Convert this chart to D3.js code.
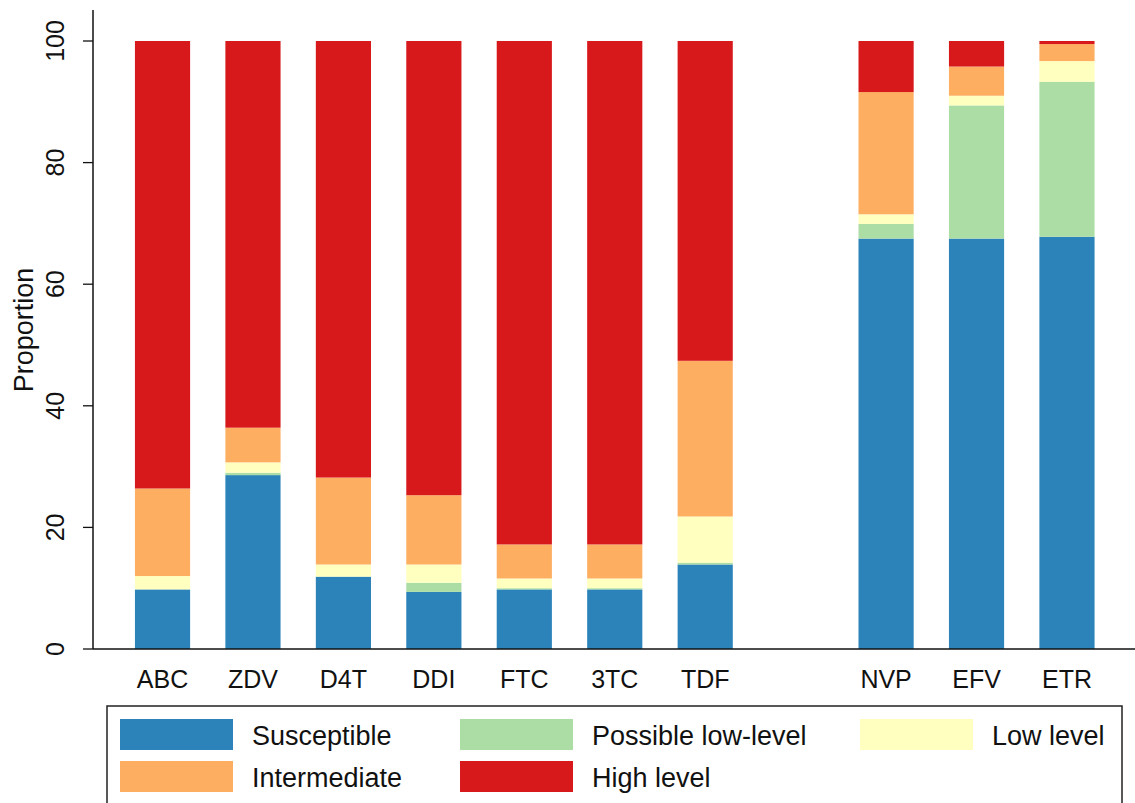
<!DOCTYPE html>
<html>
<head>
<meta charset="utf-8">
<script src="https://cdn.jsdelivr.net/npm/d3@7"></script>
<style>
  html, body { margin: 0; padding: 0; background: #fff; }
  svg { display: block; font-family: "Liberation Sans", Arial, sans-serif; }
</style>
</head>
<body>
<svg id="chart" width="1135" height="803"></svg>
<script>
// ---- Data ----
const drugs = ["ABC", "ZDV", "D4T", "DDI", "FTC", "3TC", "TDF", "NVP", "EFV", "ETR"];
const susceptible   = [9.8, 28.6, 11.9, 9.4, 9.8, 9.8, 13.9, 67.5, 67.5, 67.8];
const possibleLow   = [0.0, 0.4, 0.0, 1.5, 0.2, 0.2, 0.3, 2.4, 21.9, 25.5];
const lowLevel      = [2.2, 1.7, 2.0, 3.0, 1.6, 1.6, 7.6, 1.6, 1.6, 3.4];
const intermediate  = [14.4, 5.7, 14.3, 11.4, 5.6, 5.6, 25.6, 20.1, 4.8, 2.8];
const highLevel     = [73.6, 63.6, 71.8, 74.7, 82.8, 82.8, 52.6, 8.4, 4.2, 0.5];
const seriesNames   = ["Susceptible", "Possible low-level", "Low level", "Intermediate", "High level"];
const seriesColors  = ["#2b83ba", "#abdda4", "#ffffbf", "#fdae61", "#d7191c"];
const yTicks        = [0, 20, 40, 60, 80, 100];
// slot layout: a blank slot separates NRTIs from NNRTIs
const slots = ["ABC", "ZDV", "D4T", "DDI", "FTC", "3TC", "TDF", "_gap", "NVP", "EFV", "ETR"];

const seriesValues = [susceptible, possibleLow, lowLevel, intermediate, highLevel];
const table = drugs.map((d, i) => {
  const row = { drug: d };
  seriesNames.forEach((s, k) => row[s] = seriesValues[k][i]);
  return row;
});

const svg = d3.select("#chart");

const y = d3.scaleLinear().domain([0, 100]).range([649, 41]);
const x = d3.scaleBand().domain(slots).range([117.3, 1112.2])
  .paddingInner(0.39).paddingOuter(0.195);
const color = d3.scaleOrdinal().domain(seriesNames).range(seriesColors);

const stacked = d3.stack().keys(seriesNames)(table);

// bars
svg.append("g").selectAll("g")
  .data(stacked)
  .join("g")
  .attr("fill", d => color(d.key))
  .selectAll("rect")
  .data(d => d.filter(p => p[1] - p[0] > 0))
  .join("rect")
  .attr("x", d => x(d.data.drug))
  .attr("width", x.bandwidth())
  .attr("y", d => y(d[1]))
  .attr("height", d => y(d[0]) - y(d[1]));

// y axis
const axisX = 93;
const yAxis = svg.append("g");
yAxis.append("line")
  .attr("x1", axisX).attr("x2", axisX)
  .attr("y1", 10).attr("y2", y(0))
  .attr("stroke", "#111").attr("stroke-width", 1.5);
yAxis.selectAll("line.tick")
  .data(yTicks).join("line").attr("class", "tick")
  .attr("x1", axisX - 10).attr("x2", axisX)
  .attr("y1", d => y(d)).attr("y2", d => y(d))
  .attr("stroke", "#111").attr("stroke-width", 1.3);
yAxis.selectAll("text")
  .data(yTicks).join("text")
  .attr("transform", d => `translate(64,${y(d)}) rotate(-90)`)
  .attr("text-anchor", "middle")
  .attr("font-size", 25)
  .attr("fill", "#111")
  .text(d => d);

svg.append("text")
  .attr("transform", `translate(33,330) rotate(-90)`)
  .attr("text-anchor", "middle")
  .attr("font-size", 27)
  .attr("fill", "#111")
  .text("Proportion");

// x axis
svg.append("line")
  .attr("x1", axisX).attr("x2", 1135)
  .attr("y1", y(0)).attr("y2", y(0))
  .attr("stroke", "#111").attr("stroke-width", 1.6);
svg.append("g").selectAll("text")
  .data(drugs).join("text")
  .attr("x", d => x(d) + x.bandwidth() / 2)
  .attr("y", 688)
  .attr("text-anchor", "middle")
  .attr("font-size", 25)
  .attr("fill", "#111")
  .text(d => d);

// legend
const legend = svg.append("g");
legend.append("rect")
  .attr("x", 107).attr("y", 706)
  .attr("width", 1015).attr("height", 120)
  .attr("fill", "none").attr("stroke", "#222").attr("stroke-width", 1.5);
// order: Susceptible(0,0), Possible low-level(1,0), Low level(2,0), Intermediate(0,1), High level(1,1)
const legendPos = [
  { col: 0, row: 0 }, { col: 1, row: 0 }, { col: 2, row: 0 },
  { col: 0, row: 1 }, { col: 1, row: 1 }
];
const colX = [120, 460, 860];
const rowY = [719, 761];
const items = legend.selectAll("g.item")
  .data(seriesNames.map((s, i) => ({ name: s, pos: legendPos[i] })))
  .join("g").attr("class", "item");
items.append("rect")
  .attr("x", d => colX[d.pos.col])
  .attr("y", d => rowY[d.pos.row])
  .attr("width", 113).attr("height", 31)
  .attr("fill", d => color(d.name));
items.append("text")
  .attr("x", d => colX[d.pos.col] + 132)
  .attr("y", d => rowY[d.pos.row] + 26)
  .attr("font-size", 27)
  .attr("fill", "#111")
  .text(d => d.name);
</script>
</body>
</html>
